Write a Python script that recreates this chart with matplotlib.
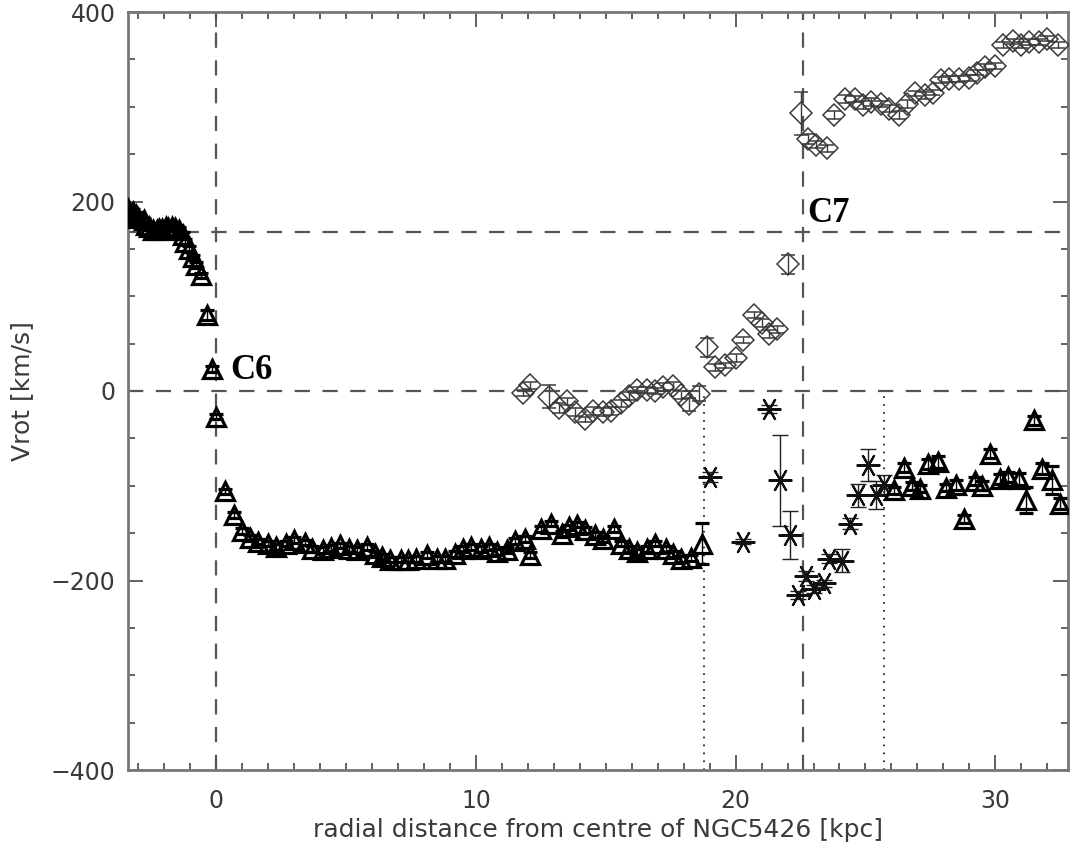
import matplotlib
matplotlib.use("Agg")
import matplotlib.pyplot as plt
from matplotlib.ticker import MultipleLocator

# triangles (thick black)
tri_x = [-3.4, -3.2, -3.1, -3.0, -2.8, -2.7, -2.6, -2.45, -2.3, -2.2,
         -2.1, -1.95, -1.85, -1.7, -1.6, -1.45, -1.3, -1.2, -1.05, -0.9,
         -0.8, -0.6, -0.35, -0.15, 0.0, 0.35, 0.7, 1.0, 1.3, 1.6,
         2.0, 2.3, 2.7, 3.0, 3.4, 3.7, 4.1, 4.4, 4.75, 5.1,
         5.4, 5.8, 6.1, 6.4, 6.7, 7.1, 7.4, 7.7, 8.1, 8.5,
         8.8, 9.2, 9.5, 9.8, 10.2, 10.5, 10.8, 11.2, 11.5, 11.9,
         12.1, 12.5, 12.9, 13.3, 13.6, 13.9, 14.2, 14.6, 14.9, 15.3,
         15.6, 15.9, 16.2, 16.6, 16.9, 17.3, 17.6, 17.9, 18.3, 18.7,
         26.1, 26.5, 26.8, 27.1, 27.4, 27.8, 28.1, 28.5, 28.8, 29.2,
         29.5, 29.8, 30.2, 30.5, 30.9, 31.2, 31.5, 31.8, 32.2, 32.5]
tri_y = [192, 189, 186, 183, 180, 175, 173, 170, 170, 171,
         171, 173, 172, 173, 172, 170, 165, 157, 150, 141,
         133, 122, 80, 23, -27, -106, -131, -148, -155, -159,
         -161, -165, -161, -157, -160, -167, -168, -166, -163, -167,
         -168, -165, -172, -175, -178, -178, -178, -177, -173, -177,
         -177, -172, -167, -165, -167, -165, -170, -168, -158, -156,
         -173, -146, -140, -151, -144, -141, -147, -152, -156, -146,
         -161, -167, -170, -167, -161, -167, -172, -177, -176, -161,
         -105, -81, -100, -103, -77, -75, -102, -99, -135, -95,
         -100, -66, -93, -91, -93, -115, -31, -82, -94, -119]
tri_err = [3, 3, 3, 3, 3, 3, 3, 3, 3, 3,
           3, 3, 3, 3, 3, 3, 3, 3, 3, 3,
           3, 3, 5, 3, 3, 3, 3, 3, 3, 3,
           3, 3, 3, 3, 3, 3, 3, 3, 3, 3,
           3, 3, 3, 3, 3, 3, 3, 3, 3, 3,
           3, 3, 3, 3, 3, 3, 3, 3, 3, 3,
           3, 3, 3, 3, 3, 3, 3, 3, 3, 3,
           3, 3, 3, 3, 3, 3, 3, 3, 3, 22,
           4, 5, 4, 4, 5, 6, 4, 5, 4, 4,
           5, 5, 5, 5, 6, 14, 5, 6, 15, 6]

# diamonds (grey)
dia_x = [11.8, 12.1, 12.8, 13.2, 13.5, 13.8, 14.2, 14.5, 14.9, 15.2,
         15.6, 15.9, 16.2, 16.6, 16.9, 17.2, 17.6, 17.9, 18.2, 18.6,
         18.9, 19.2, 19.6, 20.0, 20.3, 20.7, 21.0, 21.3, 21.6, 22.0,
         22.5, 22.8, 23.1, 23.5, 23.8, 24.2, 24.6, 24.9, 25.2, 25.6,
         25.9, 26.3, 26.6, 26.9, 27.3, 27.6, 27.9, 28.2, 28.6, 29.0,
         29.3, 29.6, 30.0, 30.3, 30.7, 31.0, 31.3, 31.7, 32.0, 32.4]
dia_y = [-2, 6, -6, -18, -11, -22, -30, -21, -22, -21,
         -13, -5, 1, 1, 0, 4, 5, -4, -14, -3,
         46, 25, 27, 35, 54, 80, 72, 60, 65, 134,
         293, 266, 260, 256, 291, 308, 308, 302, 305, 303,
         298, 291, 303, 314, 312, 315, 328, 329, 329, 330,
         336, 342, 343, 365, 369, 365, 368, 368, 372, 365]
dia_err = [3, 4, 12, 5, 4, 4, 3, 4, 4, 4,
           4, 4, 3, 3, 3, 4, 4, 4, 7, 8,
           10, 4, 3, 4, 3, 3, 4, 4, 4, 10,
           23, 5, 4, 4, 4, 4, 3, 4, 4, 3,
           4, 4, 4, 3, 4, 3, 3, 3, 3, 3,
           3, 3, 3, 3, 3, 3, 3, 3, 3, 3]

# asterisks
star_x = [19.0, 20.3, 21.3, 21.7, 22.1, 22.4, 22.7, 23.0, 23.4, 23.6,
          24.1, 24.4, 24.7, 25.1, 25.4, 25.7]
star_y = [-91, -159, -19, -94, -152, -215, -195, -209, -203, -177,
          -179, -140, -110, -78, -110, -99]
star_err = [5, 3, 4, 48, 25, 4, 5, 4, 4, 5, 12, 6, 12, 17, 15, 10]

c6_x, c7_x = 0.0, 22.6
vsys_lines = [0, 168]
dotted_x = [18.8, 25.7]

plt.rcParams['lines.scale_dashes'] = False
plt.rcParams['font.family'] = 'DejaVu Sans'

fig = plt.figure(figsize=(10.7, 8.5), dpi=100)
ax = fig.add_axes([128 / 1070, 80 / 850, 940 / 1070, 758 / 850])

grey = '#555555'
for x in [c6_x, c7_x]:
    ax.axvline(x, color=grey, lw=1.6, linestyle=(0, (11, 9)), zorder=1)
for y in vsys_lines:
    ax.axhline(y, color=grey, lw=1.6, linestyle=(0, (11, 9)), zorder=1)
ax.vlines(dotted_x[0], -400, -5, color='#333333', lw=1.5, linestyle=(0, (1.2, 4.5)), zorder=1)
ax.vlines(dotted_x[1], -400, 0, color='#333333', lw=1.5, linestyle=(0, (1.2, 4.5)), zorder=1)

ax.errorbar(dia_x, dia_y, yerr=dia_err, fmt='D', ms=11, mfc='none', mec='#3a3a3a',
            mew=1.1, ecolor='#3a3a3a', elinewidth=1, capsize=5, zorder=3)
ax.errorbar(tri_x, tri_y, yerr=tri_err, fmt='^', ms=13, mfc='none', mec='black',
            mew=2.3, ecolor='black', elinewidth=1, capsize=5, zorder=4)
ax.errorbar(star_x, star_y, yerr=star_err, fmt='none', ecolor='#222222',
            elinewidth=1, capsize=6, zorder=3)
ax.plot(star_x, star_y, linestyle='none', marker=(6, 2, 90), ms=17, mec='#111111',
        mew=1.5, zorder=4)

ax.text(0.55, 22, 'C6', family='Liberation Serif', weight='bold', fontsize=25,
        va='center', ha='left', color='black')
ax.text(22.75, 170, 'C7', family='Liberation Serif', weight='bold', fontsize=25,
        va='bottom', ha='left', color='black')

ax.set_xlim(-3.4, 32.8)
ax.set_ylim(-400, 400)
ax.xaxis.set_major_locator(MultipleLocator(10))
ax.xaxis.set_minor_locator(MultipleLocator(1))
ax.yaxis.set_major_locator(MultipleLocator(200))
ax.yaxis.set_minor_locator(MultipleLocator(50))
ax.tick_params(which='both', direction='in', top=True, right=True, color=grey,
               width=1.3, labelsize=17, labelcolor='#3a3a3a')
ax.tick_params(axis='x', which='major', length=11, pad=14)
ax.tick_params(axis='y', which='major', length=11, pad=9)
ax.tick_params(which='minor', length=5)
for s in ax.spines.values():
    s.set_color('#777777')
    s.set_linewidth(2)

ax.set_xlabel('radial distance from centre of NGC5426 [kpc]', fontsize=18,
              color='#3a3a3a', labelpad=3)
ax.set_ylabel('Vrot [km/s]', fontsize=18, color='#3a3a3a', labelpad=12)

fig.savefig('out.png', dpi=100)
